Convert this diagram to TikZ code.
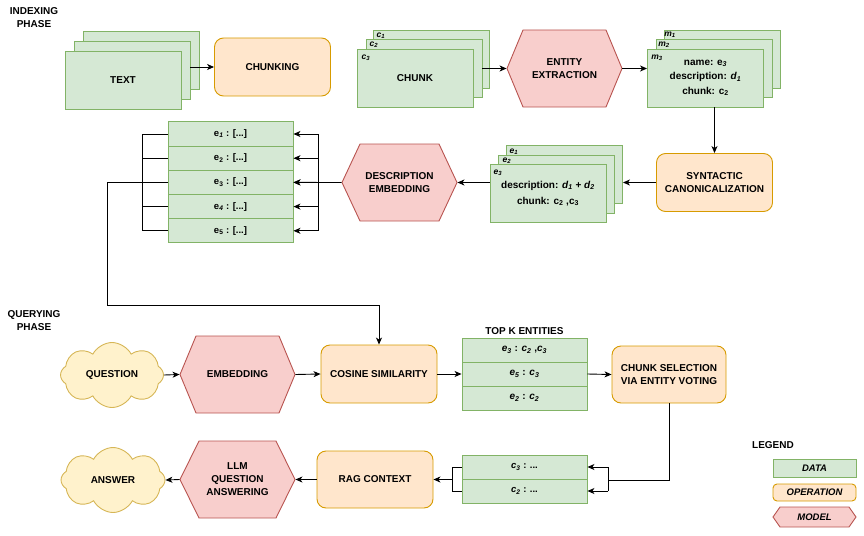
\documentclass[tikz,border=0pt]{standalone}
\usepackage{fontspec}
\setmainfont{Liberation Sans}
\usetikzlibrary{arrows.meta,shapes.symbols,calc}
\definecolor{dfill}{HTML}{D5E8D4}\definecolor{ddraw}{HTML}{82B366}
\definecolor{ofill}{HTML}{FFE6CC}\definecolor{odraw}{HTML}{D79B00}
\definecolor{mfill}{HTML}{F8CECC}\definecolor{mdraw}{HTML}{B85450}
\definecolor{cfill}{HTML}{FFF2CC}\definecolor{cdraw}{HTML}{D6B656}
\newcommand{\sbs}[1]{\textsubscript{#1}}
\newcommand{\isb}[2]{\textit{#1}\textsubscript{\textit{#2}}}
\tikzset{
  base/.style={font=\bfseries\fontsize{10}{13}\selectfont, align=center, inner sep=0pt, line width=0.9pt},
  data/.style={base, draw=ddraw, fill=dfill, minimum width=116pt, minimum height=58pt},
  oper/.style={base, draw=odraw, fill=ofill, rounded corners=9pt, minimum width=116pt, minimum height=58pt},
  row/.style={base, font=\bfseries\fontsize{9.5}{11}\selectfont, draw=ddraw, fill=dfill, minimum width=125pt, minimum height=24.2pt},
  hexfill/.style={draw=mdraw, fill=mfill, line width=0.9pt},
  hextext/.style={base},
  cloudy/.style={base, cloud, cloud puffs=8, cloud puff arc=125, aspect=1.6, draw=cdraw, fill=cfill, minimum width=103pt, minimum height=65pt},
  tag/.style={font=\bfseries\itshape\fontsize{8.5}{9}\selectfont, inner sep=0pt},
  title/.style={font=\bfseries\fontsize{10}{13}\selectfont, align=center, inner sep=0pt},
  arr/.style={-{Stealth[length=7pt,width=6pt,inset=2pt]}, line width=0.9pt},
  wire/.style={line width=0.9pt},
}
\newcommand{\hexnode}[7]{%
  \draw[hexfill] (#2-#4,#3) -- (#2-#4+#6,#3-#5) -- (#2+#4-#6,#3-#5) -- (#2+#4,#3) -- (#2+#4-#6,#3+#5) -- (#2-#4+#6,#3+#5) -- cycle;
  \node[hextext, minimum width=2*#4 pt, minimum height=2*#5 pt] (#1) at (#2,#3) {#7};
}
\begin{document}
\begin{tikzpicture}[x=1pt,y=-1pt]
\useasboundingbox (0,0) rectangle (864,535);

% titles
\node[title] (idx) at (34,18) {INDEXING\\PHASE};
\node[title] (qry) at (34,321) {QUERYING\\PHASE};

% TEXT stack
\node[data] (tb1) at (141,60.5) {};
\node[data] (tb2) at (132,70.5) {};
\node[data] (text) at (123,80) {TEXT};

% chunking
\node[oper] (chunking) at (272.5,67) {CHUNKING};

% CHUNK stack
\node[data] (cb1) at (431,59) {};
\node[data] (cb2) at (424,68) {};
\node[data] (chunk) at (415,78) {CHUNK};
\node[tag] (c1l) at (381,36) {c\sbs{1}};
\node[tag] (c2l) at (374,45) {c\sbs{2}};
\node[tag] (c3l) at (366,58) {c\sbs{3}};

% entity extraction
\hexnode{ee}{564.5}{68.5}{57.5}{38.5}{16}{ENTITY\\EXTRACTION}

% m stack
\node[data] (mb1) at (722,59) {};
\node[data] (mb2) at (714.5,68) {};
\node[data, font=\bfseries\fontsize{10}{14.5}\selectfont] (mfront) at (705.5,78) {name: e\sbs{\textit{3}}\\description: \isb{d}{1}\\chunk: c\sbs{2}};
\node[tag] (m1l) at (670,35) {m\sbs{1}};
\node[tag] (m2l) at (664,45) {m\sbs{2}};
\node[tag] (m3l) at (657,58) {m\sbs{3}};

% syntactic
\node[oper] (syn) at (714.5,182.5) {SYNTACTIC\\CANONICALIZATION};

% e stack
\node[data] (eb1) at (564.5,174.5) {};
\node[data] (eb2) at (556.5,184.5) {};
\node[data, font=\bfseries\fontsize{10}{16}\selectfont] (efront) at (548,193.5) {description: \isb{d}{1} + \isb{d}{2}\\chunk: c\sbs{2} ,c\sbs{3}};
\node[tag] (e1l) at (514,152) {e\sbs{1}};
\node[tag] (e2l) at (507,161) {e\sbs{2}};
\node[tag] (e3l) at (498,173) {e\sbs{3}};

% description embedding
\hexnode{desc}{399.5}{182.5}{57.5}{38.5}{18}{DESCRIPTION\\EMBEDDING}

% e table
\node[row] (r1) at (230.5,134) {e\sbs{\textit{1}} : [...]};
\node[row] (r2) at (230.5,158.2) {e\sbs{2} : [...]};
\node[row] (r3) at (230.5,182.4) {e\sbs{3} : [...]};
\node[row] (r4) at (230.5,206.6) {e\sbs{\textit{4}} : [...]};
\node[row] (r5) at (230.5,230.8) {e\sbs{5} : [...]};

% querying
\node[cloudy] (q) at (112,375) {QUESTION};
\hexnode{emb}{237.5}{374.5}{57.5}{38.5}{16}{EMBEDDING}
\node[oper] (cos) at (379,374) {COSINE SIMILARITY};
\node[title] (topk) at (524.5,331) {TOP K ENTITIES};
\node[row, minimum height=24pt, font=\bfseries\fontsize{10}{11}\selectfont] (k1) at (524.5,350) {\isb{e}{3} : \isb{c}{2} ,\isb{c}{3}};
\node[row, minimum height=24pt, font=\bfseries\fontsize{10}{11}\selectfont] (k2) at (524.5,374) {\isb{e}{5} : \isb{c}{3}};
\node[row, minimum height=24pt, font=\bfseries\fontsize{10}{11}\selectfont] (k3) at (524.5,398) {\isb{e}{2} : \isb{c}{2}};
\node[oper, minimum width=114pt, minimum height=57pt] (sel) at (669,374.5) {CHUNK SELECTION\\VIA ENTITY VOTING};

\node[row, minimum height=24pt] (cr1) at (524.5,467) {\isb{c}{3} : ...};
\node[row, minimum height=24pt] (cr2) at (524.5,491) {\isb{c}{2} : ...};
\node[oper, minimum height=57pt] (rag) at (375,479.5) {RAG CONTEXT};
\hexnode{llm}{237.5}{479.5}{57.5}{38.5}{19}{LLM\\QUESTION\\ANSWERING}
\node[cloudy, minimum width=104pt] (ans) at (113,480) {ANSWER};

% legend
\node[title] (leg) at (773,445) {LEGEND};
\node[base, draw=ddraw, fill=dfill, minimum width=83pt, minimum height=18pt, font=\bfseries\itshape\fontsize{9.5}{11}\selectfont] (ldata) at (814.5,468) {DATA};
\node[base, draw=odraw, fill=ofill, rounded corners=4pt, minimum width=83pt, minimum height=17pt, font=\bfseries\itshape\fontsize{9.5}{11}\selectfont] (lop) at (814.5,492.5) {OPERATION};
\draw[hexfill] (773,517) -- (780,507) -- (849,507) -- (856,517) -- (849,527) -- (780,527) -- cycle;
\node[base, font=\bfseries\itshape\fontsize{9.5}{11}\selectfont] (lmod) at (814.5,517) {MODEL};

% coordinates
\coordinate (busR) at (318,0);
\coordinate (busL) at (142,0);
\coordinate (bend) at (107,305);
\coordinate (sbend) at (608,480);
\coordinate (cbus) at (452,0);

% connectors (indexing)
\draw[arr] (chunking.west -| tb2.east) -- (chunking.west);
\draw[arr] (ee.west -| cb2.east) -- (ee.west);
\draw[arr] (ee.east) -- (ee.east -| mfront.west);
\draw[arr] (syn.north |- mfront.south) -- (syn.north);
\draw[arr] (syn.west) -- (syn.west -| eb1.east);
\draw[arr] (desc.east -| efront.west) -- (desc.east);
\draw[arr] (desc.west) -- (r3.east);
\draw[wire] (r1.east -| busR) -- (r5.east -| busR);
\foreach \r in {r1,r2,r3,r4,r5} {\draw[arr] (\r.east -| busR) -- (\r.east);}
\draw[wire] (r1.west -| busL) -- (r5.west -| busL);
\foreach \r in {r1,r2,r4,r5} {\draw[wire] (\r.west -| busL) -- (\r.west);}
\draw[arr] (r3.west) -| (bend) -| (cos.north);

% connectors (querying)
\draw[arr] (q.east) -- (emb.west);
\draw[arr] (emb.east) -- (cos.west);
\draw[arr] (cos.east) -- (k2.west);
\draw[arr] (k2.east) -- (sel.west);
\draw[wire] (sel.south) |- (sbend);
\draw[wire] (cr1.east -| sbend) -- (cr2.east -| sbend);
\draw[arr] (cr1.east -| sbend) -- (cr1.east);
\draw[arr] (cr2.east -| sbend) -- (cr2.east);
\draw[wire] (cr1.west -| cbus) -- (cr2.west -| cbus);
\draw[wire] (cr1.west -| cbus) -- (cr1.west);
\draw[wire] (cr2.west -| cbus) -- (cr2.west);
\draw[arr] (rag.east -| cbus) -- (rag.east);
\draw[arr] (rag.west) -- (llm.east);
\draw[arr] (llm.west) -- (ans.east);
\end{tikzpicture}
\end{document}
